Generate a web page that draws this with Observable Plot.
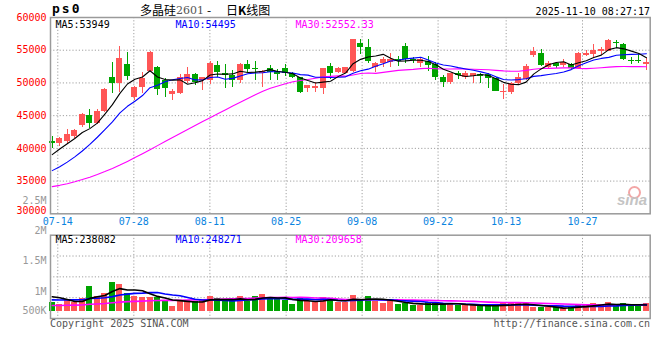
<!DOCTYPE html>
<html>
<head>
<meta charset="utf-8">
<script src="https://cdn.jsdelivr.net/npm/d3@7"></script>
<script src="https://cdn.jsdelivr.net/npm/@observablehq/plot@0.6"></script>
<style>
  html, body { margin: 0; padding: 0; background: #fff; }
  #root { position: relative; width: 660px; height: 360px; background: #fff; overflow: hidden; }
  .abs { position: absolute; white-space: pre; }
  .mono { font-family: "DejaVu Sans Mono", monospace; font-size: 10px; line-height: 10px; }
</style>
</head>
<body>
<div id="root">
  <div id="price" class="abs" style="left:0;top:0"></div>
  <div id="vol" class="abs" style="left:0;top:220px"></div>
  <div id="volaxis" class="abs" style="left:0;top:190px"></div>
  <div class="abs" style="left:52px;top:2px;font:bold 13px/14px 'DejaVu Sans Mono',monospace;letter-spacing:2px;color:#000">ps0</div>
  <div class="abs" style="left:140px;top:4px;font:12px/12px 'Noto Sans CJK SC';color:#000">多晶硅</div>
  <div class="abs" style="left:176px;top:5px;font:11px/11px 'DejaVu Serif',serif;color:#555">2601</div>
  <div class="abs" style="left:207px;top:4px;font:12px/12px 'Noto Sans CJK SC';color:#000">-</div>
  <div class="abs" style="left:226px;top:4px;font:12px/12px 'Noto Sans CJK SC';color:#000">日<b>K</b>线图</div>
  <div class="abs mono" style="right:10px;top:7.4px;color:#000">2025-11-10 08:27:17</div>
  <div class="abs mono" style="left:50px;top:318.7px;color:#555">Copyright 2025 SINA.COM</div>
  <div class="abs mono" style="right:10px;top:318.7px;color:#555">http://finance.sina.com.cn</div>
  <div class="abs" style="left:628px;top:186px;width:9px;height:9px;border:2px solid #f3a6a6;border-radius:50%"></div>
  <div class="abs" style="left:617px;top:192px;font:italic bold 15px/15px 'Liberation Sans',sans-serif;color:#c4c4c4">sina</div>
</div>
<script>
// ---------- data ----------
const opens  = [41050,40770,41030,41800,43480,45000,43830,45620,50820,49850,
                52840,47700,49300,51740,52400,50360,48220,48420,50210,51280,
                50360,50360,52650,51480,51120,50360,52810,52200,51390,52140,
                51740,52140,51480,50770,49090,49090,49090,52500,51630,51480,
                51800,56000,55400,52400,52910,53160,53570,55600,53570,53010,
                53320,52800,50800,50100,51480,50900,51020,51300,51300,50750,
                48480,48550,49860,50520,54190,54540,52400,52950,52660,52800,
                52200,54200,54340,54850,54850,56250,55870,53450,53450,52850];
const highs  = [41800,41700,42860,42870,45360,45880,45870,49090,53160,55600,
                54690,49440,51630,54750,52500,50650,48940,51300,52400,51480,
                50850,53320,53270,52810,51890,52910,53420,53270,51900,52660,
                52000,52810,51600,50800,49650,50000,52200,52900,52300,52400,
                56700,56600,56700,53100,53900,54450,54030,55980,53830,53900,
                54030,53160,51100,51500,51700,51700,51500,51400,51480,50900,
                49800,50100,51480,52800,55360,55050,53200,53150,53570,52900,
                54600,54900,55900,55450,56650,56480,56100,53830,54440,53750];
const lows   = [40000,40300,40770,41440,43120,43100,43580,45520,48320,48600,
                50300,47350,48400,51600,48070,47800,47300,48300,49950,49600,
                48830,49750,50870,49100,49250,49860,51630,50400,49250,50360,
                50360,50970,50620,48420,48570,48570,48220,50600,51400,51400,
                51600,54400,52900,51650,52400,52400,52550,53000,52900,52400,
                51800,50400,49250,49700,50600,50500,49860,49900,49150,48700,
                47450,48250,49600,50360,53930,52550,52250,52250,52400,52100,
                52100,54030,53800,54250,54800,55200,53500,52800,52900,51950];
const closes = [40800,41440,42050,42710,45160,43730,45620,48980,49900,53770,
                50920,49240,50710,54690,48950,49090,48720,50900,51280,50100,
                50770,53010,51630,51130,50360,52760,52040,52000,51740,51630,
                51280,51480,50870,48570,49600,49440,52140,51500,52140,52300,
                56630,55450,53300,52900,53570,53570,53300,53550,53400,53520,
                52600,50800,50100,51400,51130,51480,51380,51050,50620,48720,
                48680,49900,50770,52550,54840,52660,53010,52550,53160,52250,
                54500,54450,55000,55050,56450,56000,53550,53250,53300,53150];
// volume (lots)
const volumes = [333,248,419,333,456,915,544,667,1074,989,
                 667,544,519,519,493,370,174,396,396,370,
                 396,544,456,370,370,544,370,544,619,456,
                 456,396,248,456,370,333,493,456,333,333,
                 581,433,544,370,296,396,248,296,211,211,
                 333,296,270,270,211,211,211,174,211,211,
                 270,270,270,270,122,122,122,122,89,174,
                 248,211,270,248,333,174,270,174,248,270].map(v => v * 1000);
// moving-average values before a full window is available
const ma5Head  = [39050,39900,40700,41500];
const ma10Head = [36600,37200,37900,38700,39600,40600,41700,42850,44050];
const ma30Head = [34150,34350,34600,34900,35230,35600,36000,36450,36930,37450,
                  38010,38590,39190,39800,40420,41040,41660,42270,42880,43490,
                  44090,44690,45280,45870,46460,47050,47630,48200,48720];
const vma5Head  = [535000,496000,433000,359000];
const vma10Head = [420000,415000,420000,420000,425000,470000,480000,500000,540000];
const vma30Head = [211000,213000,220000,224000,232000,256000,267000,283000,312000,338000,
                   354000,365000,375000,385000,395000,401000,401000,407000,413000,419000,
                   425000,436000,444000,450000,456000,467000,473000,484000,498000];
const dateLabels  = ["07-14","07-28","08-11","08-25","09-08","09-22","10-13","10-27"];
const dateTickPos = [0.74, 10.85, 20.96, 31.1, 41.2, 51.3, 60.35, 70.5];
const priceTicks  = [30000,35000,40000,45000,50000,55000,60000];
const volTickLabels = ["2.5M","2M","1.5M","1M"];
const volTickValues = [2500000,2000000,1500000,1000000];
const volBottomLabel = "500K";
const priceLegend = ["MA5:53949","MA10:54495","MA30:52552.33"];
const volLegend   = ["MA5:238082","MA10:248271","MA30:209658"];

// ---------- derived ----------
const RED = "#ff5656", GREEN = "#00a400", GRID = "#a0a0a0", FRAME = "#9a9a9a";
const MONO = "DejaVu Sans Mono";
const candles = closes.map((c, i) => ({i, o: opens[i], h: highs[i], l: lows[i], c, v: volumes[i], up: c >= opens[i]}));
const upC = candles.filter(d => d.up), dnC = candles.filter(d => !d.up);
function rolling(vals, n, head) {
  return vals.map((_, i) => i < n - 1 ? head[i] : d3.mean(vals.slice(i - n + 1, i + 1)));
}
const ma5 = rolling(closes, 5, ma5Head), ma10 = rolling(closes, 10, ma10Head), ma30 = rolling(closes, 30, ma30Head);
const vma5 = rolling(volumes, 5, vma5Head), vma10 = rolling(volumes, 10, vma10Head), vma30 = rolling(volumes, 30, vma30Head);
const xDomain = [-0.23, 79.5];
const style = {fontFamily: MONO, fontSize: "10px", background: "transparent", overflow: "visible"};
const gridOpts = {stroke: GRID, strokeOpacity: 1, strokeDasharray: "1.2,2", strokeWidth: 1};
const legend = (txt, dx, dy, fill) => Plot.text([txt], {text: d => d, frameAnchor: "top-left", textAnchor: "start", lineAnchor: "top", dx, dy, fill});
const axisOpts = {anchor: "left", tickSize: 0, tickPadding: 4, tickFormat: d => String(d), fill: "#ff0000", label: null, fontSize: 10};

// ---------- price panel ----------
const pricePlot = Plot.plot({
  width: 660, height: 232,
  marginLeft: 50, marginRight: 10.3, marginTop: 17, marginBottom: 18.7,
  style,
  x: {domain: xDomain, axis: null, label: null},
  y: {domain: [30000, 60000], label: null},
  marks: [
    Plot.gridY(priceTicks.slice(1, -1), gridOpts),
    Plot.gridX(dateTickPos, gridOpts),
    Plot.ruleX(upC, {x: "i", y1: "l", y2: "h", stroke: RED, shapeRendering: "crispEdges"}),
    Plot.ruleX(dnC, {x: "i", y1: "l", y2: "h", stroke: GREEN, shapeRendering: "crispEdges"}),
    Plot.rect(upC, {x1: d => d.i - 0.4, x2: d => d.i + 0.4, y1: "o", y2: "c", fill: RED, shapeRendering: "crispEdges"}),
    Plot.rect(dnC, {x1: d => d.i - 0.4, x2: d => d.i + 0.4, y1: "o", y2: "c", fill: GREEN, shapeRendering: "crispEdges"}),
    Plot.line(ma30, {x: (d, i) => i, y: d => d, stroke: "#ff00ff", strokeWidth: 1.1}),
    Plot.line(ma10, {x: (d, i) => i, y: d => d, stroke: "#0000ff", strokeWidth: 1.1}),
    Plot.line(ma5,  {x: (d, i) => i, y: d => d, stroke: "#000000", strokeWidth: 1.1}),
    Plot.frame({stroke: FRAME, strokeWidth: 1.5}),
    Plot.axisY(priceTicks.slice(1), axisOpts),
    Plot.axisY(priceTicks.slice(0, 1), {...axisOpts, dy: -3}),
    Plot.text(dateLabels, {x: (d, i) => dateTickPos[i], text: d => d, frameAnchor: "bottom", lineAnchor: "top", dy: 3.6, fill: "#0a84e0"}),
    legend(priceLegend[0], 5, 3, "#000"),
    legend(priceLegend[1], 125, 3, "#0000ff"),
    legend(priceLegend[2], 245, 3, "#ff00ff")
  ]
});
document.getElementById("price").appendChild(pricePlot);

// ---------- volume panel ----------
const vDomain = [-270000, 2815000];
const vGrid = d3.range(1, 4).map(k => vDomain[0] + (vDomain[1] - vDomain[0]) * k / 4);
const volPlot = Plot.plot({
  width: 660, height: 100,
  marginLeft: 50, marginRight: 10.3, marginTop: 14.7, marginBottom: 2,
  style,
  x: {domain: xDomain, axis: null, label: null},
  y: {domain: vDomain, axis: null, label: null},
  marks: [
    Plot.gridY(vGrid, gridOpts),
    Plot.gridX(dateTickPos, gridOpts),
    Plot.rect(upC, {x1: d => d.i - 0.4, x2: d => d.i + 0.4, y1: 0, y2: "v", fill: RED, shapeRendering: "crispEdges"}),
    Plot.rect(dnC, {x1: d => d.i - 0.4, x2: d => d.i + 0.4, y1: 0, y2: "v", fill: GREEN, shapeRendering: "crispEdges"}),
    Plot.line(vma30, {x: (d, i) => i, y: d => d, stroke: "#ff00ff", strokeWidth: 1.6}),
    Plot.line(vma10, {x: (d, i) => i, y: d => d, stroke: "#0000ff", strokeWidth: 1.6}),
    Plot.line(vma5,  {x: (d, i) => i, y: d => d, stroke: "#000000", strokeWidth: 1.6}),
    Plot.frame({stroke: FRAME, strokeWidth: 1.5}),
    legend(volLegend[0], 5, 1, "#000"),
    legend(volLegend[1], 125, 1, "#0000ff"),
    legend(volLegend[2], 245, 1, "#ff00ff")
  ]
});
document.getElementById("vol").appendChild(volPlot);

// ---------- volume axis labels ----------
const volAxis = Plot.plot({
  width: 660, height: 130,
  marginLeft: 50, marginRight: 10,
  style,
  y: {domain: [500000, 2500000], range: [131.4, 10.1], axis: null, label: null},
  marks: [
    Plot.text(volTickLabels, {y: (d, i) => volTickValues[i], text: d => d, frameAnchor: "left", textAnchor: "end", dx: -4, fill: "#999"}),
    Plot.text([volBottomLabel], {y: () => 500000, text: d => d, frameAnchor: "left", textAnchor: "end", dx: -4, dy: -10.7, fill: "#999"})
  ]
});
document.getElementById("volaxis").appendChild(volAxis);
</script>
</body>
</html>
